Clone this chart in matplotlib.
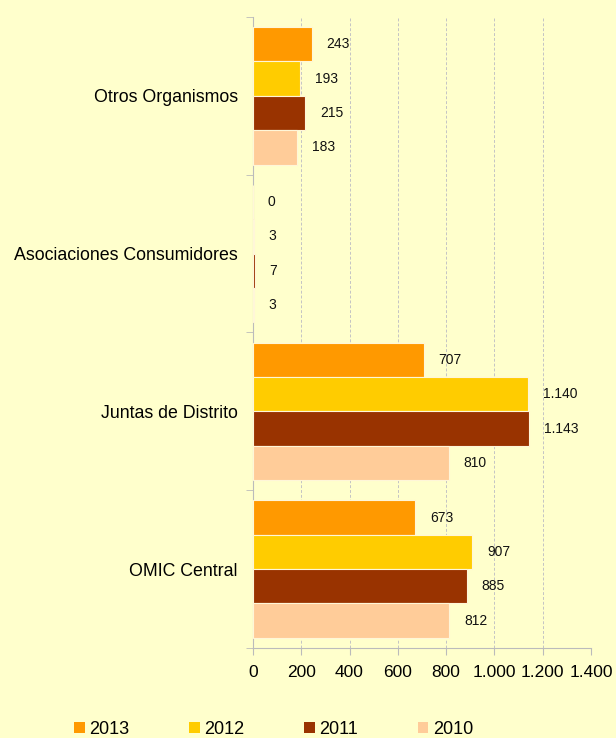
import numpy as np
import matplotlib.pyplot as plt
from matplotlib.patches import Patch

plt.rcParams['font.family'] = ['Liberation Sans', 'DejaVu Sans']

# categories from bottom to top
categories = ['OMIC Central', 'Juntas de Distrito', 'Asociaciones Consumidores', 'Otros Organismos']
years = ['2013', '2012', '2011', '2010']
values = {
    '2013': [673, 707, 0, 243],
    '2012': [907, 1140, 3, 193],
    '2011': [885, 1143, 7, 215],
    '2010': [812, 810, 3, 183],
}
colors = {'2013': '#FF9900', '2012': '#FFCC00', '2011': '#993300', '2010': '#FFCC99'}

bg = '#FFFFCC'
fig = plt.figure(figsize=(6.16, 7.38), dpi=100, facecolor=bg)
ax = fig.add_axes([0.4107, 0.122, 0.5487, 0.855], facecolor=bg)

def fmt(v):
    return f'{v:,}'.replace(',', '.')

y = np.arange(len(categories))
h = 0.218
for i, yr in enumerate(years):
    pos = y + (1.5 - i) * h
    ax.barh(pos, values[yr], height=h, color=colors[yr], edgecolor='#FFF6D8', linewidth=0.8, zorder=3)
    for p, v in zip(pos, values[yr]):
        ax.annotate(fmt(v), (v, p), xytext=(15, 0), textcoords='offset pixels',
                    ha='left', va='center', fontsize=10, color='#111111')

ax.set_xlim(0, 1400)
ax.set_ylim(-0.5, len(categories) - 0.5)
ax.set_xticks(np.arange(0, 1401, 200))
ax.set_xticklabels([fmt(t) for t in range(0, 1401, 200)], fontsize=12.5)
ax.set_yticks(y)
ax.set_yticklabels(categories, fontsize=12.8)
ax.set_yticks(np.arange(-0.5, len(categories)), minor=True)
ax.tick_params(axis='y', which='major', length=0, pad=11)
ax.tick_params(axis='y', which='minor', length=5, color='#BBBBBB', direction='out')
ax.tick_params(axis='x', length=5, color='#BBBBBB', pad=7)
ax.grid(axis='x', color='#C4C4C4', linestyle=(0, (3, 2)), linewidth=0.7, zorder=0)

for s in ['top', 'right']:
    ax.spines[s].set_visible(False)
for s in ['left', 'bottom']:
    ax.spines[s].set_color('#BBBBBB')

handles = [Patch(facecolor=colors[yr], label=yr) for yr in years]
fig.legend(handles=handles, loc='center', bbox_to_anchor=(0.444, 0.012), ncol=4, frameon=False,
           fontsize=13, handlelength=0.6, handleheight=0.6, handletextpad=0.25, columnspacing=3.3)

fig.savefig('out.png', dpi=100, facecolor=bg)
